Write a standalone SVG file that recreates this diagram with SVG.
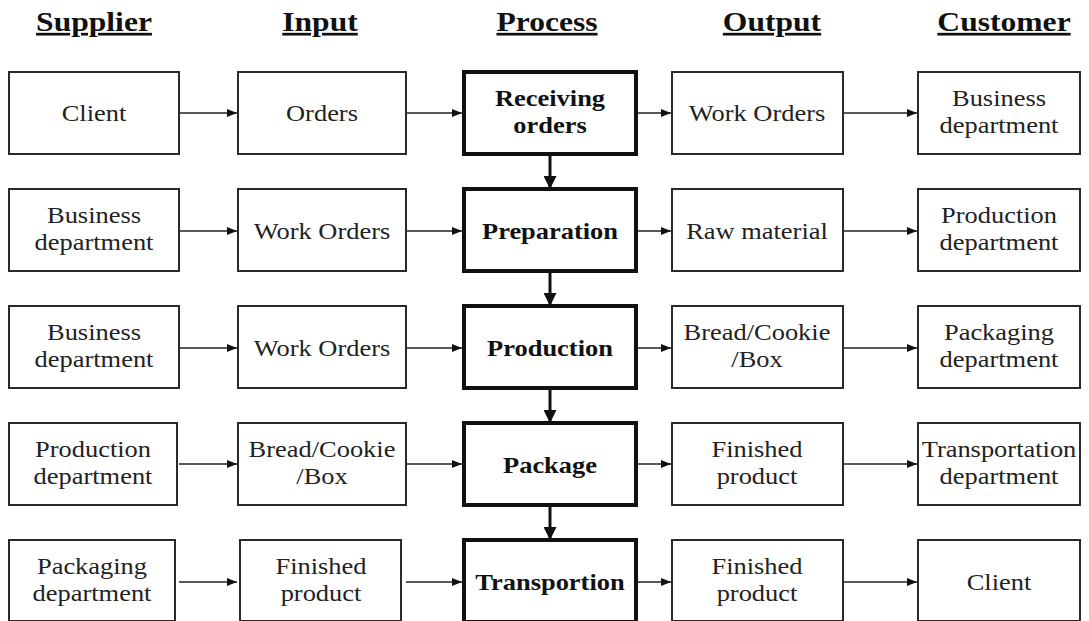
<svg xmlns="http://www.w3.org/2000/svg" width="1089" height="621" viewBox="0 0 1089 621">
<defs>
<style>
.box{fill:#fff;stroke:#2a2a2a;stroke-width:2}
.pbox{fill:#fff;stroke:#111;stroke-width:4}
.t{font-family:"Liberation Serif","Times New Roman",serif;font-size:23px;fill:#222;text-anchor:middle}
.b{font-family:"Liberation Serif","Times New Roman",serif;font-size:23px;font-weight:bold;fill:#111;text-anchor:middle}
.h{font-family:"Liberation Serif","Times New Roman",serif;font-size:27px;font-weight:bold;fill:#111;text-anchor:middle;text-decoration:underline}
.ha{stroke:#222;stroke-width:1.6;fill:none;marker-end:url(#ah)}
.va{stroke:#111;stroke-width:3;fill:none;marker-end:url(#av)}
</style>
<marker id="ah" viewBox="0 0 10 8" refX="10" refY="4" markerWidth="10" markerHeight="8" markerUnits="userSpaceOnUse" orient="auto">
<path d="M0,0 L10,4 L0,8 Z" fill="#111"/>
</marker>
<marker id="av" viewBox="0 0 13 13" refX="13" refY="6.5" markerWidth="13" markerHeight="13" markerUnits="userSpaceOnUse" orient="auto">
<path d="M0,0 L13,6.5 L0,13 Z" fill="#111"/>
</marker>
</defs>
<rect width="1089" height="621" fill="#fff"/>

<g id="headers">
<text class="h" transform="translate(94,31) scale(1.17,1)">Supplier</text>
<text class="h" transform="translate(320,31) scale(1.17,1)">Input</text>
<text class="h" transform="translate(547,31) scale(1.17,1)">Process</text>
<text class="h" transform="translate(772,31) scale(1.17,1)">Output</text>
<text class="h" transform="translate(1004,31) scale(1.17,1)">Customer</text>
</g>

<g id="connectors">
<line class="ha" x1="179" y1="113" x2="237" y2="113"/>
<line class="ha" x1="406" y1="113" x2="462" y2="113"/>
<line class="ha" x1="636" y1="113" x2="671" y2="113"/>
<line class="ha" x1="843" y1="113" x2="917" y2="113"/>
<line class="ha" x1="179" y1="231" x2="237" y2="231"/>
<line class="ha" x1="406" y1="231" x2="462" y2="231"/>
<line class="ha" x1="636" y1="231" x2="671" y2="231"/>
<line class="ha" x1="843" y1="231" x2="917" y2="231"/>
<line class="ha" x1="179" y1="348" x2="237" y2="348"/>
<line class="ha" x1="406" y1="348" x2="462" y2="348"/>
<line class="ha" x1="636" y1="348" x2="671" y2="348"/>
<line class="ha" x1="843" y1="348" x2="917" y2="348"/>
<line class="ha" x1="179" y1="464" x2="237" y2="464"/>
<line class="ha" x1="406" y1="464" x2="462" y2="464"/>
<line class="ha" x1="636" y1="464" x2="671" y2="464"/>
<line class="ha" x1="843" y1="464" x2="917" y2="464"/>
<line class="ha" x1="179" y1="582" x2="237" y2="582"/>
<line class="ha" x1="406" y1="582" x2="462" y2="582"/>
<line class="ha" x1="636" y1="582" x2="671" y2="582"/>
<line class="ha" x1="843" y1="582" x2="917" y2="582"/>
<line class="va" x1="550" y1="156" x2="550" y2="189"/>
<line class="va" x1="550" y1="273" x2="550" y2="306"/>
<line class="va" x1="550" y1="390" x2="550" y2="423"/>
<line class="va" x1="550" y1="507" x2="550" y2="540"/>
</g>

<g id="r1-supplier"><rect class="box" x="9" y="72" width="170" height="82"/><text class="t" transform="translate(94,121) scale(1.15,1)">Client</text></g>
<g id="r1-input"><rect class="box" x="238" y="72" width="168" height="82"/><text class="t" transform="translate(322,121) scale(1.15,1)">Orders</text></g>
<g id="r1-process"><rect class="pbox" x="464" y="72" width="172" height="82"/><text class="b" transform="translate(550,106) scale(1.15,1)">Receiving</text><text class="b" transform="translate(550,133) scale(1.15,1)">orders</text></g>
<g id="r1-output"><rect class="box" x="672" y="72" width="171" height="82"/><text class="t" transform="translate(757,121) scale(1.15,1)">Work Orders</text></g>
<g id="r1-customer"><rect class="box" x="918" y="72" width="162" height="82"/><text class="t" transform="translate(999,106) scale(1.15,1)">Business</text><text class="t" transform="translate(999,133) scale(1.15,1)">department</text></g>

<g id="r2-supplier"><rect class="box" x="9" y="189" width="170" height="82"/><text class="t" transform="translate(94,223) scale(1.15,1)">Business</text><text class="t" transform="translate(94,250) scale(1.15,1)">department</text></g>
<g id="r2-input"><rect class="box" x="238" y="189" width="168" height="82"/><text class="t" transform="translate(322,239) scale(1.15,1)">Work Orders</text></g>
<g id="r2-process"><rect class="pbox" x="464" y="189" width="172" height="82"/><text class="b" transform="translate(550,239) scale(1.15,1)">Preparation</text></g>
<g id="r2-output"><rect class="box" x="672" y="189" width="171" height="82"/><text class="t" transform="translate(757,239) scale(1.15,1)">Raw material</text></g>
<g id="r2-customer"><rect class="box" x="918" y="189" width="162" height="82"/><text class="t" transform="translate(999,223) scale(1.15,1)">Production</text><text class="t" transform="translate(999,250) scale(1.15,1)">department</text></g>

<g id="r3-supplier"><rect class="box" x="9" y="306" width="170" height="82"/><text class="t" transform="translate(94,340) scale(1.15,1)">Business</text><text class="t" transform="translate(94,367) scale(1.15,1)">department</text></g>
<g id="r3-input"><rect class="box" x="238" y="306" width="168" height="82"/><text class="t" transform="translate(322,356) scale(1.15,1)">Work Orders</text></g>
<g id="r3-process"><rect class="pbox" x="464" y="306" width="172" height="82"/><text class="b" transform="translate(550,356) scale(1.15,1)">Production</text></g>
<g id="r3-output"><rect class="box" x="672" y="306" width="171" height="82"/><text class="t" transform="translate(757,340) scale(1.15,1)">Bread/Cookie</text><text class="t" transform="translate(757,367) scale(1.15,1)">/Box</text></g>
<g id="r3-customer"><rect class="box" x="918" y="306" width="162" height="82"/><text class="t" transform="translate(999,340) scale(1.15,1)">Packaging</text><text class="t" transform="translate(999,367) scale(1.15,1)">department</text></g>

<g id="r4-supplier"><rect class="box" x="9" y="423" width="168" height="82"/><text class="t" transform="translate(93,457) scale(1.15,1)">Production</text><text class="t" transform="translate(93,484) scale(1.15,1)">department</text></g>
<g id="r4-input"><rect class="box" x="238" y="423" width="168" height="82"/><text class="t" transform="translate(322,457) scale(1.15,1)">Bread/Cookie</text><text class="t" transform="translate(322,484) scale(1.15,1)">/Box</text></g>
<g id="r4-process"><rect class="pbox" x="464" y="423" width="172" height="82"/><text class="b" transform="translate(550,473) scale(1.15,1)">Package</text></g>
<g id="r4-output"><rect class="box" x="672" y="423" width="171" height="82"/><text class="t" transform="translate(757,457) scale(1.15,1)">Finished</text><text class="t" transform="translate(757,484) scale(1.15,1)">product</text></g>
<g id="r4-customer"><rect class="box" x="918" y="423" width="162" height="82"/><text class="t" transform="translate(999,457) scale(1.15,1)">Transportation</text><text class="t" transform="translate(999,484) scale(1.15,1)">department</text></g>

<g id="r5-supplier"><rect class="box" x="9" y="540" width="166" height="81"/><text class="t" transform="translate(92,574) scale(1.15,1)">Packaging</text><text class="t" transform="translate(92,601) scale(1.15,1)">department</text></g>
<g id="r5-input"><rect class="box" x="240" y="540" width="161" height="81"/><text class="t" transform="translate(321,574) scale(1.15,1)">Finished</text><text class="t" transform="translate(321,601) scale(1.15,1)">product</text></g>
<g id="r5-process"><rect class="pbox" x="464" y="540" width="172" height="82"/><text class="b" transform="translate(550,590) scale(1.15,1)">Transportion</text></g>
<g id="r5-output"><rect class="box" x="672" y="540" width="171" height="81"/><text class="t" transform="translate(757,574) scale(1.15,1)">Finished</text><text class="t" transform="translate(757,601) scale(1.15,1)">product</text></g>
<g id="r5-customer"><rect class="box" x="918" y="540" width="162" height="81"/><text class="t" transform="translate(999,590) scale(1.15,1)">Client</text></g>
</svg>
